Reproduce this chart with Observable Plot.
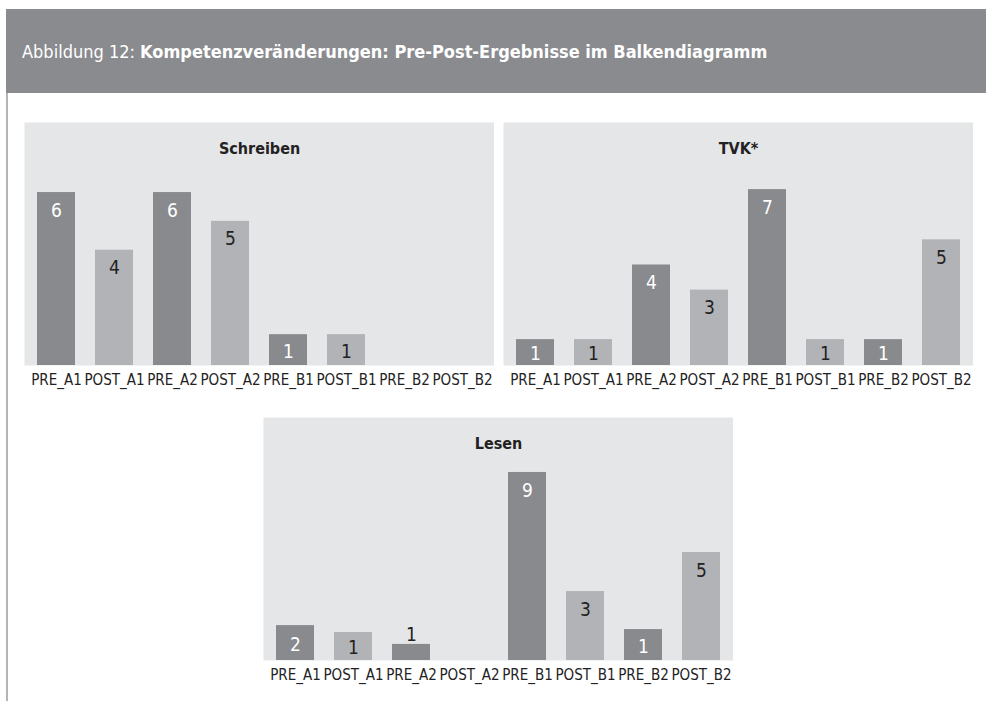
<!DOCTYPE html>
<html><head><meta charset="utf-8">
<script src="https://cdn.jsdelivr.net/npm/d3@7"></script>
<script src="https://cdn.jsdelivr.net/npm/@observablehq/plot@0.6"></script>
<style>
body{margin:0;background:#fff;font-family:"DejaVu Sans",sans-serif;font-stretch:condensed;}
#root{position:relative;width:986px;height:701px;overflow:hidden;background:#fff;}
#header{position:absolute;left:6px;top:9px;width:980px;height:84px;background:#8a8b8f;color:#fff;font-size:18px;line-height:86px;padding-left:16px;box-sizing:border-box;white-space:nowrap;font-stretch:condensed;}
#vline{position:absolute;left:6px;top:93px;width:2px;height:608px;background:#b3b4b6;}
.panel{position:absolute;}
svg text{font-stretch:condensed;}
</style></head><body>
<div id="root">
  <div id="header"><span>Abbildung 12: </span><b>Kompetenzveränderungen: Pre-Post-Ergebnisse im Balkendiagramm</b></div>
  <div id="vline"></div>
  <div class="panel" id="p0" style="left:24px;top:122px"></div>
  <div class="panel" id="p1" style="left:503px;top:122px"></div>
  <div class="panel" id="p2" style="left:263px;top:417px"></div>
</div>
<script>
// ---- data ----
const categories = ["PRE_A1","POST_A1","PRE_A2","POST_A2","PRE_B1","POST_B1","PRE_B2","POST_B2"];
const panelTitles = ["Schreiben","TVK*","Lesen"];
const schreibenValues = [6, 4, 6, 5, 1.07, 1.07, 0, 0];
const schreibenLabels = ["6","4","6","5","1","1","",""];
const tvkValues = [1.03, 1.03, 4, 3, 7, 1.03, 1.03, 5];
const tvkLabels = ["1","1","4","3","7","1","1","5"];
const lesenValues = [1.67, 1.34, 0.77, 0, 9, 3.3, 1.48, 5.17];
const lesenLabels = ["2","1","1","","9","3","1","5"];
const yMaxima = [8.43, 9.67, 11.63];

// ---- style ----
const FONT = '"DejaVu Sans",sans-serif';
const DARK = "#898a8e", LIGHT = "#b2b3b6", PANEL = "#e5e6e7", INK = "#222";
const PANEL_W = 470, PANEL_H = 243, MB = 34;

function panel(id, title, values, labels, yMax) {
  const data = categories.map((c, i) => ({cat: c, value: values[i], label: labels[i], pre: c.startsWith("PRE")}));
  const k = PANEL_H / yMax;
  const withLabel = data.filter(d => d.label !== "");
  const topLab = withLabel.filter(d => d.value * k >= 38);
  const midLab = withLabel.filter(d => d.value * k >= 20 && d.value * k < 38);
  const aboveLab = withLabel.filter(d => d.value * k < 20);
  const chart = Plot.plot({
    width: PANEL_W,
    height: PANEL_H + MB,
    marginLeft: 0, marginRight: 0, marginTop: 0, marginBottom: MB,
    style: {fontFamily: FONT, fontSize: "15px", color: INK, background: "transparent"},
    x: {domain: categories, paddingInner: 0.35, paddingOuter: 0.2, label: null, tickSize: 0, tickPadding: 9},
    y: {domain: [0, yMax], axis: null},
    marks: [
      Plot.frame({fill: PANEL, stroke: null}),
      Plot.barY(data, {x: "cat", y: "value", fill: d => d.pre ? DARK : LIGHT}),
      Plot.text(topLab, {x: "cat", y: "value", text: "label", dy: 18, fontSize: 19, fill: d => d.pre ? "#fff" : INK}),
      Plot.text(midLab, {x: "cat", y: d => d.value / 2, text: "label", dy: 1.5, fontSize: 19, fill: d => d.pre ? "#fff" : INK}),
      Plot.text(aboveLab, {x: "cat", y: "value", text: "label", dy: -10, fontSize: 19, fill: INK}),
      Plot.text([title], {frameAnchor: "top", dy: 20, text: d => d, fontWeight: "bold", fontSize: 16, fill: INK})
    ]
  });
  document.getElementById(id).appendChild(chart);
}

panel("p0", panelTitles[0], schreibenValues, schreibenLabels, yMaxima[0]);
panel("p1", panelTitles[1], tvkValues, tvkLabels, yMaxima[1]);
panel("p2", panelTitles[2], lesenValues, lesenLabels, yMaxima[2]);
</script>
</body></html>
